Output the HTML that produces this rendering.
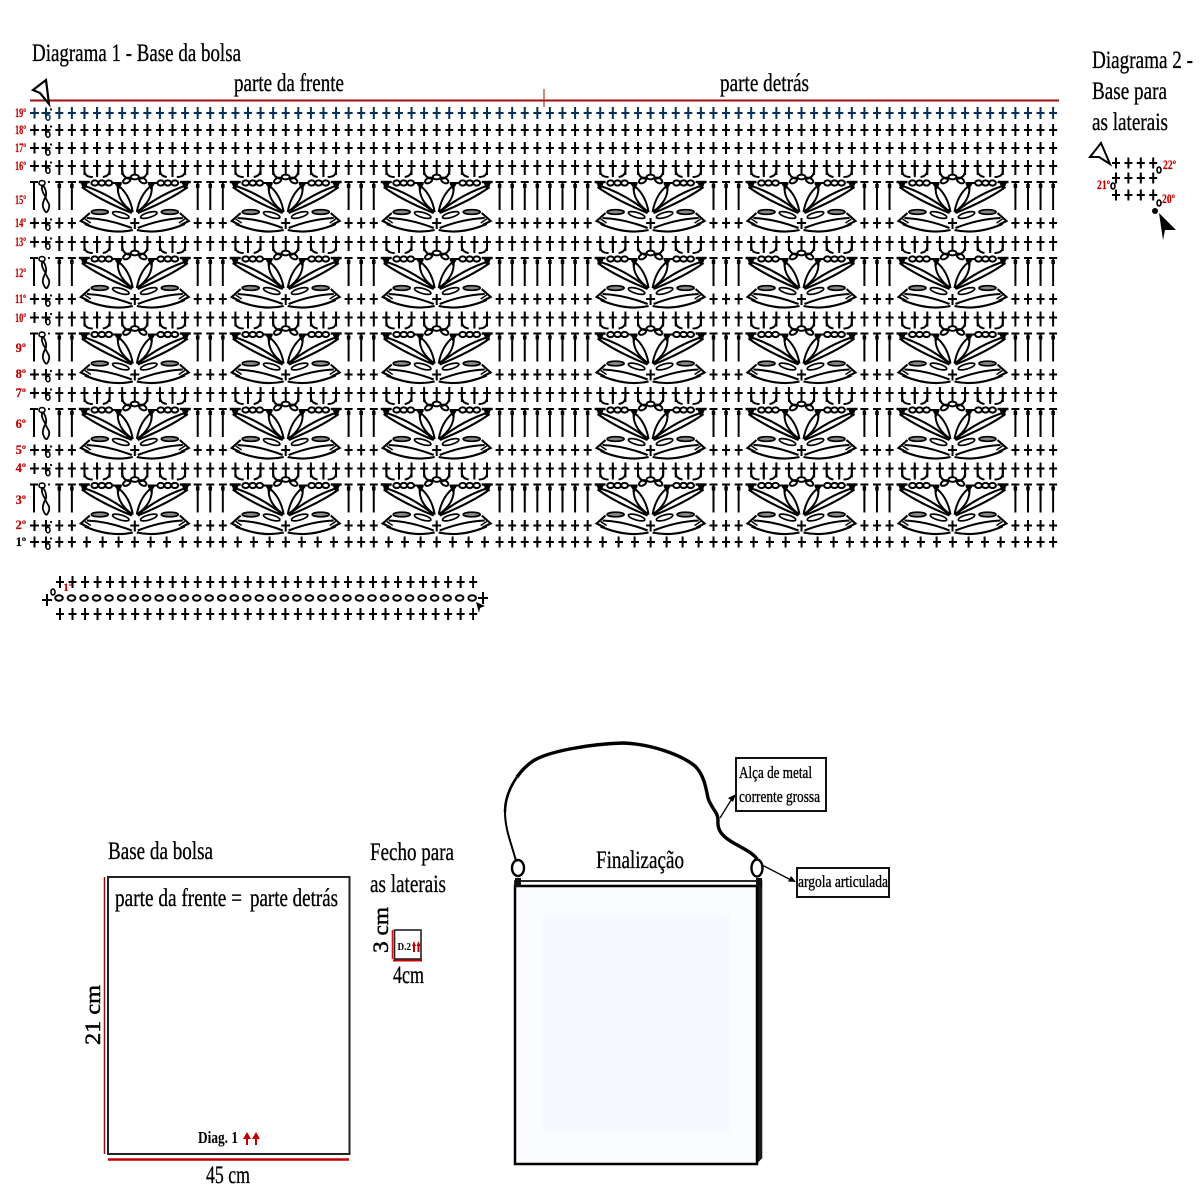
<!DOCTYPE html>
<html><head><meta charset="utf-8"><title>Diagrama</title>
<style>
html,body{margin:0;padding:0;background:#fff}
svg{display:block}
text{font-family:"Liberation Serif",serif;fill:#000}
.t{font-size:25px;stroke:#000;stroke-width:.3px}
.m{font-size:17px;stroke:#000;stroke-width:.35px}
.n{font-size:12.5px;font-weight:bold;fill:#c00000;text-anchor:end;stroke:#c00000;stroke-width:.2px}
</style></head><body>
<svg xmlns="http://www.w3.org/2000/svg" width="1200" height="1200" viewBox="0 0 1200 1200">
<defs>
<pattern id="ov" x="52.8" y="590" width="12.52" height="16" patternUnits="userSpaceOnUse"><ellipse cx="6.2" cy="8" rx="3.8" ry="2.8" fill="none" stroke="#000" stroke-width="2"/></pattern>
<path id="hp" fill="none" d="M55.3 0H75.9M193.7 0H226.8M344.6 0H377.8M495.6 0H591.7M709.5 0H742.6M860.4 0H893.6M1011.4 0H1057.1"/>
<path id="vp" fill="none" d="M58.3 0H72.9M196.7 0H223.8M347.6 0H374.8M498.6 0H588.7M712.5 0H739.6M863.4 0H890.6M1014.4 0H1054.1"/>
<g id="R"><line x1="55.3" x2="1057.1" y1="0" y2="0" stroke-width="2" stroke-dasharray="8 4.58"/><line x1="58.3" x2="1054.1" y1="0" y2="0" stroke-width="12" stroke-dasharray="2 10.58"/></g>
<g id="R2"><line x1="55.3" x2="1057.1" y1="0" y2="0" stroke-width="2" stroke-dasharray="8 4.58"/><line x1="58.3" x2="1054.1" y1="1.5" y2="1.5" stroke-width="15" stroke-dasharray="2 10.58"/></g>
<g id="L">
<path d="M30 0H39M34.5-5.5V5.5M41.5 0H50.5M46-5.5V5.5" stroke-width="2" fill="none"/>
<ellipse cx="48" cy="4.5" rx="2" ry="2.8" fill="#fff" stroke-width="1.5"/><circle cx="51" cy="-3.5" r="1.1" fill="#000" stroke="none"/>
</g>
<g id="H" fill="none" stroke="#000" stroke-width="2">
<path d="M-50.3-58V-52Q-50-46-42-46M-37.7-60V-46M-25.2-58V-53Q-25.2-47-32-46M-12.6-58V-52Q-12-45-4-44"/>
<path d="M-56-41H-45" stroke-width="2.4"/>
<ellipse cx="-40" cy="-40" rx="3.4" ry="2.6"/><ellipse cx="-33" cy="-40" rx="3.4" ry="2.6"/><ellipse cx="-26" cy="-40" rx="3.4" ry="2.6"/>
<path d="M-22.5-40H-13"/>
<ellipse cx="-8" cy="-42.5" rx="4" ry="2.4" transform="rotate(-28 -8 -42.5)"/>
<path d="M-53-38Q-27-30-3-11M-53-36Q-35-23-3-10" stroke-width="2.1"/>
<path d="M-55-41L-47-40L-50-33Z" fill="#000" stroke="none"/>
<path d="M-17-37Q-18-22-2-11M-16-37Q-5-28-2-11"/>
<path d="M-20-39L-13-39L-16-33Z" fill="#000" stroke="none"/>
<ellipse cx="-35" cy="-11" rx="8.5" ry="2.3" fill="#888" stroke-width="1.7"/>
<ellipse cx="-14" cy="-8" rx="8.5" ry="2.5" transform="rotate(16 -14 -8)" stroke-width="1.7"/>
<path d="M-48-5Q-26-4-3 5M-50 1Q-24 12-2 7" stroke-width="2.1"/>
<path d="M-45-10L-54-2L-46 2" stroke-width="2.1"/>
<path d="M-50-4L-44 0" stroke-width="1.4"/>
</g>
<g id="M"><use href="#H"/><use href="#H" transform="scale(-1,1)"/>
<ellipse cx="0" cy="-46" rx="4" ry="2.4" fill="none" stroke="#000" stroke-width="2"/>
<path d="M-4.5 0H4.5M0-5V6" stroke="#000" stroke-width="2" fill="none"/></g>
<g id="U" stroke="#000">
<use href="#R2" y="-57"/>
<use href="#L" y="-57"/>
<use href="#L" y="0"/>
<use href="#hp" y="0" stroke-width="2" stroke-dasharray="8 4.58"/>
<use href="#vp" y="0" stroke-width="11" stroke-dasharray="2 10.58"/>
<use href="#hp" y="-41" stroke-width="2" stroke-dasharray="8 4.58"/>
<use href="#hp" y="-37" stroke-width="4" stroke-dasharray="3.5 9.08" stroke-dashoffset="-2.25"/>
<use href="#vp" y="-26.5" stroke-width="27" stroke-dasharray="2 10.58"/>
<path d="M30-41H38M34-41V-13" stroke-width="2" fill="none"/>
<ellipse cx="42" cy="-40" rx="3" ry="2.4" fill="none" stroke-width="1.6"/>
<path d="M43-38Q47-32 46-27Q42-20 43-16Q45-10 47-11Q50-15 49-19Q46-24 45-27Q41-33 42-37" stroke-width="1.8" fill="none"/>
<circle cx="49" cy="-41" r="1.1" fill="#000" stroke="none"/>
<use href="#M" x="134.8"/><use href="#M" x="285.7"/><use href="#M" x="436.7"/><use href="#M" x="650.6"/><use href="#M" x="801.5"/><use href="#M" x="952.5"/>
</g>
</defs>
<rect width="1200" height="1200" fill="#fff"/>

<text class="t" x="32" y="61" textLength="209" lengthAdjust="spacingAndGlyphs">Diagrama 1 - Base da bolsa</text>
<text class="t" x="234" y="91" textLength="110" lengthAdjust="spacingAndGlyphs">parte da frente</text>
<text class="t" x="720" y="91" textLength="89" lengthAdjust="spacingAndGlyphs">parte detrás</text>
<line x1="30" x2="1059" y1="100.5" y2="100.5" stroke="#9a1010" stroke-width="2"/>
<line x1="544" x2="544" y1="89" y2="107" stroke="#9a1010" stroke-width="1"/>
<path d="M33 90L46 80L49 104L40 93Z" fill="#fff" stroke="#000" stroke-width="2.2"/>

<g stroke="#0a2f55"><use href="#R" y="113"/><use href="#L" y="113"/></g>
<g stroke="#000">
<use href="#R" y="130"/><use href="#L" y="130"/>
<use href="#R" y="148"/><use href="#L" y="148"/>
</g>
<use href="#U" y="223"/>
<use href="#U" y="299"/>
<use href="#U" y="374.5"/>
<use href="#U" y="450"/>
<use href="#U" y="525.5"/>
<!-- row 1 -->
<g stroke="#000" fill="none">
<use href="#L" y="542"/>
<path stroke-width="2" stroke-dasharray="8 4.58" d="M55.3 542H75.9M193.7 542H226.8M344.6 542H377.8M495.6 542H591.7M709.5 542H742.6M860.4 542H893.6M1011.4 542H1057.1"/>
<path stroke-width="11" stroke-dasharray="2 10.58" d="M58.3 542H72.9M196.7 542H223.8M347.6 542H374.8M498.6 542H588.7M712.5 542H739.6M863.4 542H890.6M1014.4 542H1054.1"/>
<path stroke-width="2" stroke-dasharray="8 8" d="M83 542H188M234 542H339M385 542H490M599 542H704M750 542H855M901 542H1006"/>
<path stroke-width="11" stroke-dasharray="2 14" d="M85.6 542H186M236.6 542H337M387.6 542H488M601.6 542H702M752.6 542H853M903.6 542H1004"/>
</g>
<g>
<text class="n" x="26" y="117" textLength="11" lengthAdjust="spacingAndGlyphs">19º</text><text class="n" x="26" y="134" textLength="11" lengthAdjust="spacingAndGlyphs">18º</text><text class="n" x="26" y="152" textLength="11" lengthAdjust="spacingAndGlyphs">17º</text><text class="n" x="26" y="170" textLength="11" lengthAdjust="spacingAndGlyphs">16º</text><text class="n" x="26" y="204" textLength="11" lengthAdjust="spacingAndGlyphs">15º</text><text class="n" x="26" y="227" textLength="11" lengthAdjust="spacingAndGlyphs">14º</text><text class="n" x="26" y="246" textLength="11" lengthAdjust="spacingAndGlyphs">13º</text><text class="n" x="26" y="277" textLength="11" lengthAdjust="spacingAndGlyphs">12º</text><text class="n" x="26" y="303" textLength="11" lengthAdjust="spacingAndGlyphs">11º</text><text class="n" x="26" y="322" textLength="11" lengthAdjust="spacingAndGlyphs">10º</text><text class="n" x="26" y="352">9º</text><text class="n" x="26" y="378">8º</text><text class="n" x="26" y="397">7º</text><text class="n" x="26" y="428">6º</text><text class="n" x="26" y="454">5º</text><text class="n" x="26" y="472">4º</text><text class="n" x="26" y="504">3º</text><text class="n" x="26" y="529">2º</text><text class="n" x="26" y="546" style="fill:#000;stroke:#000">1º</text>
</g>

<!-- foundation chain -->
<g stroke="#000" fill="none">
<line x1="56" x2="477.5" y1="582" y2="582" stroke-width="2" stroke-dasharray="8 4.52"/>
<line x1="59" x2="474" y1="582" y2="582" stroke-width="12" stroke-dasharray="2 10.52"/>
<line x1="56" x2="477.5" y1="614" y2="614" stroke-width="2" stroke-dasharray="8 4.52"/>
<line x1="59" x2="474" y1="614" y2="614" stroke-width="12" stroke-dasharray="2 10.52"/>
<path d="M42 600H52M47 594V606M478 598H488M483 592V604" stroke-width="2"/>
<ellipse cx="53" cy="592" rx="2" ry="3" stroke-width="1.6"/>
</g>
<rect x="52.8" y="590" width="426" height="16" fill="url(#ov)"/>
<path d="M476 602L485 606L480 608L479 613Z" fill="#000"/>
<text x="63" y="591" style="font-size:12px;font-weight:bold;fill:#c00000">1ª</text>

<!-- diagram 2 -->
<text class="t" x="1092" y="68" textLength="101" lengthAdjust="spacingAndGlyphs">Diagrama 2 -</text>
<text class="t" x="1092" y="99" textLength="75" lengthAdjust="spacingAndGlyphs">Base para</text>
<text class="t" x="1092" y="130" textLength="76" lengthAdjust="spacingAndGlyphs">as laterais</text>
<path d="M1090 157L1101 143L1110 164L1099 157Z" fill="#fff" stroke="#000" stroke-width="2"/>
<g stroke="#000" fill="none">
<g stroke-width="2" stroke-dasharray="8 4.4"><path d="M1112 163H1158M1112 178H1158M1112 195H1158"/></g>
<g stroke-width="11" stroke-dasharray="2 10.4"><path d="M1115 163H1155M1115 178H1155M1115 195H1155"/></g>
<ellipse cx="1159" cy="170" rx="2" ry="3" fill="#fff" stroke-width="1.6"/>
<ellipse cx="1113" cy="186" rx="2" ry="3" fill="#fff" stroke-width="1.6"/>
<ellipse cx="1159" cy="203" rx="2" ry="3" fill="#fff" stroke-width="1.6"/>
</g>
<circle cx="1155" cy="211" r="3" fill="#000"/>
<path d="M1159 213L1176 230L1165 230L1163 240Z" fill="#000"/>
<text class="n" x="1176" y="169" textLength="13" lengthAdjust="spacingAndGlyphs">22º</text><text class="n" x="1110" y="189" textLength="13" lengthAdjust="spacingAndGlyphs">21º</text><text class="n" x="1175" y="203" textLength="13" lengthAdjust="spacingAndGlyphs">20º</text>

<!-- base da bolsa -->
<text class="t" x="108" y="859" textLength="105" lengthAdjust="spacingAndGlyphs">Base da bolsa</text>
<rect x="108" y="877" width="241.5" height="277" fill="#fff" stroke="#222" stroke-width="2"/>
<text class="t" x="115" y="906" textLength="127" lengthAdjust="spacingAndGlyphs">parte da frente =</text>
<text class="t" x="250" y="906" textLength="88" lengthAdjust="spacingAndGlyphs">parte detrás</text>
<line x1="104.5" x2="104.5" y1="877" y2="1154" stroke="#8a1010" stroke-width="1.5"/>
<line x1="108" x2="349" y1="1159.5" y2="1159.5" stroke="#c00000" stroke-width="2.5"/>
<text class="t" transform="rotate(-90 100 1045)" x="100" y="1045" textLength="60" lengthAdjust="spacingAndGlyphs" style="font-size:22px;stroke-width:.5px">21 cm</text>
<text class="t" x="206" y="1183" textLength="44" lengthAdjust="spacingAndGlyphs">45 cm</text>
<text x="198" y="1143" textLength="40" lengthAdjust="spacingAndGlyphs" style="font-size:17px;font-weight:bold">Diag. 1</text>
<path d="M247 1132L251 1139H248V1145H246V1139H243ZM256 1132L260 1139H257V1145H255V1139H252Z" fill="#c00000"/>

<!-- fecho -->
<text class="t" x="370" y="860" textLength="84" lengthAdjust="spacingAndGlyphs">Fecho para</text>
<text class="t" x="370" y="892" textLength="76" lengthAdjust="spacingAndGlyphs">as laterais</text>
<text class="t" transform="rotate(-90 388 953)" x="388" y="953" textLength="46" lengthAdjust="spacingAndGlyphs" style="font-size:22px;stroke-width:.5px">3 cm</text>
<rect x="394.5" y="930" width="26.5" height="29" fill="#fff" stroke="#222" stroke-width="1.6"/>
<line x1="392.5" x2="392.5" y1="930" y2="959" stroke="#d01818" stroke-width="1.6"/>
<line x1="393" x2="422" y1="960.5" y2="960.5" stroke="#c00000" stroke-width="2"/>
<text x="397.5" y="950" textLength="13.5" lengthAdjust="spacingAndGlyphs" style="font-size:11px;font-weight:bold">D.2</text>
<path d="M414 941L416 946H415V952H413V946H412ZM418.5 941L420.5 946H419.5V952H417.5V946H416.5Z" fill="#c00000"/>
<text class="t" x="393" y="983" textLength="31" lengthAdjust="spacingAndGlyphs">4cm</text>

<!-- finalizacao -->
<path d="M516 861C512 845 505 830 505 812" fill="none" stroke="#000" stroke-width="2"/>
<path d="M505 812C505 798 510 787 517 777" fill="none" stroke="#000" stroke-width="2.6"/>
<path d="M517 777C522 770 527 765 533 761C549 751 590 744 623 743C650 744 680 754 695 766C704 775 706 788 708 798C711 808 718 812 718 820C717 830 722 836 732 842C742 848 752 852 757 859" fill="none" stroke="#000" stroke-width="3.4" stroke-linejoin="round"/>
<rect x="515" y="881" width="242" height="5.5" fill="#fff" stroke="#111" stroke-width="1.8"/>
<path d="M756.7 887L762.3 880V1158L756.7 1164Z" fill="#1a1a1a"/>
<rect x="515" y="886" width="242" height="278" fill="#fbfcff" stroke="#000" stroke-width="2.5"/>
<rect x="543" y="915" width="187" height="217" fill="#f6f8fd"/>
<rect x="515" y="878" width="6" height="9" fill="#111"/>
<rect x="756" y="878" width="6" height="9" fill="#111"/>
<ellipse cx="518" cy="868" rx="6" ry="8" fill="#fff" stroke="#000" stroke-width="2.4"/>
<ellipse cx="757" cy="868" rx="5.5" ry="8.5" fill="#fff" stroke="#000" stroke-width="2.4"/>
<text class="t" x="596" y="868" textLength="88" lengthAdjust="spacingAndGlyphs">Finalização</text>
<rect x="736" y="758" width="90" height="53" fill="#fff" stroke="#111" stroke-width="2"/>
<text class="m" x="739" y="778" textLength="73" lengthAdjust="spacingAndGlyphs">Alça de metal</text>
<text class="m" x="739" y="802" textLength="81" lengthAdjust="spacingAndGlyphs">corrente grossa</text>
<rect x="797" y="868" width="92" height="29" fill="#fff" stroke="#111" stroke-width="2"/>
<text class="m" x="798" y="887" textLength="90" lengthAdjust="spacingAndGlyphs">argola articulada</text>
<path d="M720 818L733 797" stroke="#000" stroke-width="1.3" fill="none"/>
<path d="M736 794L733 802L728 798Z" fill="#000"/>
<path d="M762 865L791 880" stroke="#000" stroke-width="1.3" fill="none"/>
<path d="M796 882L788 881.5L791 876Z" fill="#000"/>
</svg>
</body></html>
